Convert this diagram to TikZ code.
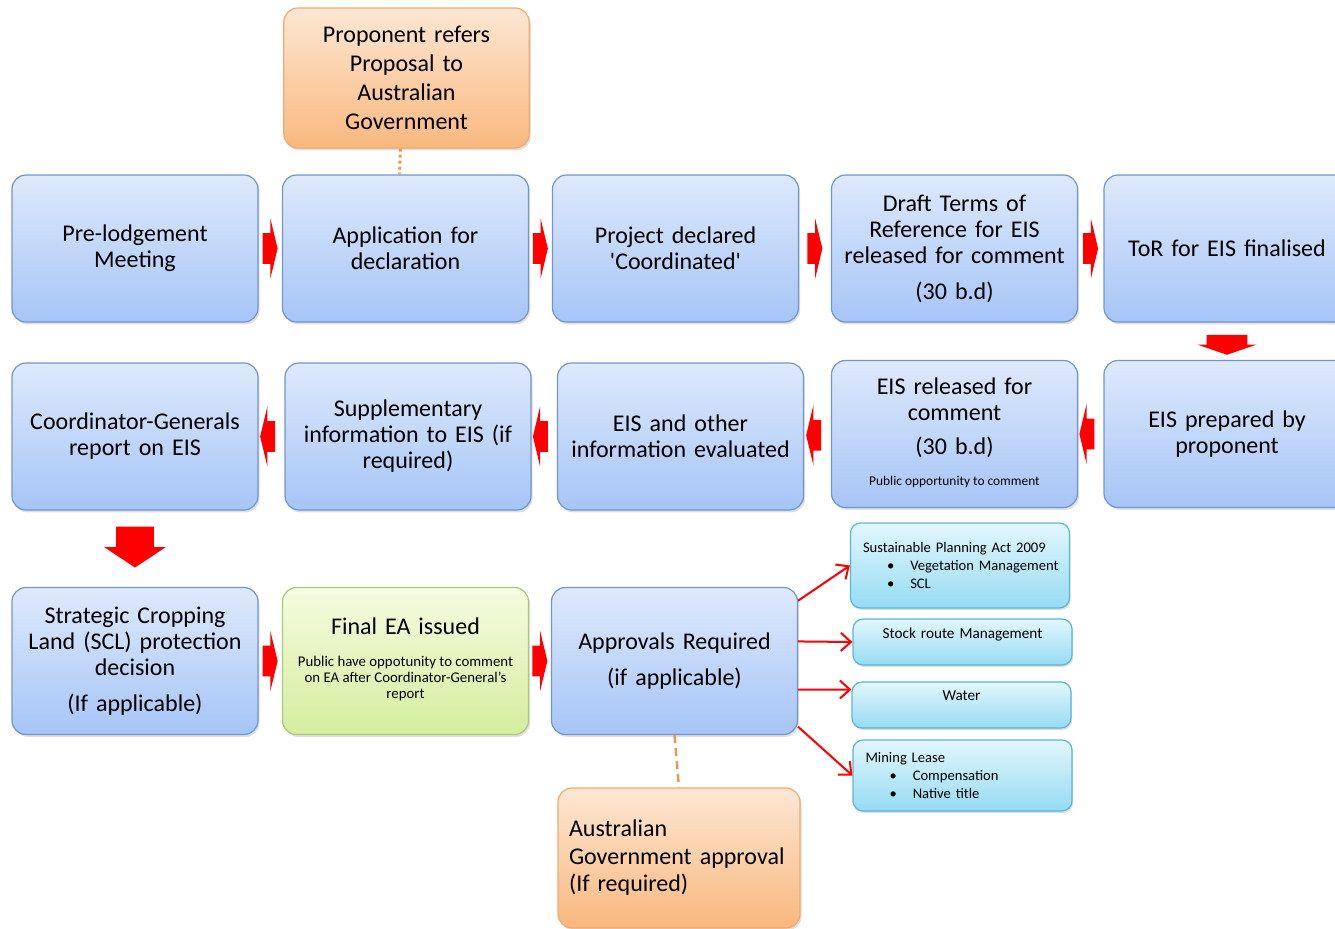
\documentclass[tikz,border=0pt]{standalone}
\usepackage{fontspec}
\setmainfont{Carlito}
\usetikzlibrary{positioning,calc,shapes.arrows,shadows,arrows.meta}
\definecolor{blueTop}{RGB}{222,233,252}
\definecolor{blueBot}{RGB}{166,197,246}
\definecolor{blueLine}{RGB}{112,150,204}
\definecolor{greenTop}{RGB}{245,251,224}
\definecolor{greenBot}{RGB}{212,238,158}
\definecolor{greenLine}{RGB}{170,202,120}
\definecolor{orangeTop}{RGB}{253,231,212}
\definecolor{orangeBot}{RGB}{249,184,126}
\definecolor{orangeLine}{RGB}{241,170,108}
\definecolor{cyanTop}{RGB}{226,247,253}
\definecolor{cyanBot}{RGB}{150,219,243}
\definecolor{cyanLine}{RGB}{92,180,216}
\definecolor{linkOrange}{RGB}{240,150,80}
\newcommand\bulletitem[1]{\mbox{\hspace*{12pt}\textbullet\hspace{8pt}#1}}
\newcommand\smalltext[2]{{\fontsize{#1}{8}\selectfont\spaceskip=0pt\xspaceskip=0pt
  \begin{tabular}[t]{@{}c@{}}#2\end{tabular}}}

\tikzset{
  stage/.style={rounded corners=7pt, draw=blueLine, line width=0.6pt,
    top color=blueTop, bottom color=blueBot,
    minimum width=123pt, minimum height=73.5pt, text width=116pt, align=center,
    font=\fontsize{12}{13}\selectfont,
    drop shadow={shadow xshift=0.8pt, shadow yshift=-1.2pt, opacity=0.25}},
  govbox/.style={stage, draw=orangeLine, top color=orangeTop, bottom color=orangeBot,
    minimum width=121pt, minimum height=70pt},
  note/.style={rounded corners=5pt, draw=cyanLine, line width=0.6pt,
    top color=cyanTop, bottom color=cyanBot, minimum width=109.5pt,
    text width=97pt, font=\fontsize{7.3}{9}\selectfont,
    drop shadow={shadow xshift=0.6pt, shadow yshift=-1pt, opacity=0.25}},
  blockarr/.style={single arrow, fill=red, draw=none, inner xsep=0pt, inner ysep=7.5pt,
    minimum height=7.5pt, single arrow head extend=7.25pt, single arrow tip angle=153},
  flow/.style={red, line width=1pt, -{Straight Barb[length=5pt,width=9pt]}},
  link/.style={linkOrange, line width=1.2pt}
}

\begin{document}
\begin{tikzpicture}[x=0.5pt, y=-0.5pt]
\useasboundingbox (0,0) rectangle (1335,928);

% first row
\node[stage] (pre)  at (135,248.5)   {Pre-lodgement\\Meeting};
\node[stage] (app)  at (405.5,248.5) {Application for\\declaration};
\node[stage] (proj) at (675.5,248.5) {Project declared\\\textquotesingle Coordinated\textquotesingle};
\node[stage] (tor)  at (954.5,248.5) {Draft Terms of\\Reference for EIS\\released for comment\\[5pt](30 b.d)};
\node[stage] (fin)  at (1227,248.5)  {ToR for EIS finalised};

\node[govbox, font=\fontsize{12}{14.5}\selectfont] (prop) at (406.5,78)
  {Proponent refers\\Proposal to\\Australian\\Government};

% second row
\node[stage] (cgr)  at (135,436.5)   {Coordinator-Generals\\report on EIS};
\node[stage] (supp) at (408,436.5)   {Supplementary\\information to EIS (if\\required)};
\node[stage] (eval) at (680.5,436.5) {EIS and other\\information evaluated};
\node[stage] (rel)  at (954.5,434)   {EIS released for\\comment\\[4pt](30 b.d)\\[2.5pt]\smalltext{6.7}{Public opportunity to comment}};
\node[stage] (prep) at (1227,434)    {EIS prepared by\\proponent};

% third row
\node[stage] (scl)  at (135,661)     {Strategic Cropping\\Land (SCL) protection\\decision\\[5pt](If applicable)};
\node[stage, draw=greenLine, top color=greenTop, bottom color=greenBot] (ea) at (405.5,661)
  {Final EA issued\\[3pt]\smalltext{7.4}{Public have oppotunity to comment\\on EA after Coordinator-General's\\report}};
\node[stage] (appr) at (674.5,661)   {Approvals Required\\[5pt](if applicable)};

\node[govbox, align=left, text width=110pt, font=\fontsize{12}{13.75}\selectfont] (agov) at (679,858)
  {Australian\\Government approval\\(If required)};

% approvals
\node[note, align=left, minimum height=42.5pt] (spa) at (960,565.5)
  {Sustainable Planning Act 2009\\\bulletitem{Vegetation Management}\\\bulletitem{SCL}};
\node[note, align=center, minimum height=23pt, font=\fontsize{7.6}{9}\selectfont] (stock) at (962.5,642) {Stock route Management\\\mbox{}};
\node[note, align=center, minimum height=23pt, font=\fontsize{7.6}{9}\selectfont] (water) at (961.5,705) {Water\\\mbox{}};
\node[note, align=left, minimum height=35.5pt] (mining) at (962.5,775.5)
  {Mining Lease\\\bulletitem{Compensation}\\\bulletitem{Native title}};

% block arrows
\foreach \a/\b in {pre/app, app/proj, proj/tor, tor/fin, scl/ea, ea/appr}{
  \node[blockarr] (\a-\b) at ($(\a.east)!0.5!(\b.west)+(-2,0)$) {};
}
\foreach \a/\b in {prep/rel, rel/eval, eval/supp, supp/cgr}{
  \node[blockarr, rotate=180] (\a-\b) at ($(\a.west)!0.5!(\b.east)+(-2,0)$) {};
}
\node[blockarr, rotate=-90, inner ysep=10pt, minimum height=10pt,
  single arrow head extend=4.5pt, single arrow tip angle=142] (fin-prep) at ($(fin.south)!0.5!(prep.north)$) {};
\node[blockarr, rotate=-90, inner ysep=9.25pt, minimum height=20.5pt,
  single arrow head extend=6pt, single arrow tip angle=113] (cgr-scl) at ($(cgr.south)!0.5!(scl.north)+(0,-8)$) {};

% links
\draw[link, dash pattern=on 1.5pt off 1.5pt, line width=1.5pt] ([xshift=-3pt]prop.south) -- ([xshift=-3pt]app.north);
\draw[link, dash pattern=on 4pt off 2.5pt] (appr.south) -- (agov.north);

\draw[flow] (appr.26) -- (spa.west);
\draw[flow] (appr.9) -- (stock.west);
\draw[flow] (appr.-13) -- (water.172);
\draw[flow] (appr.-28) -- (mining.west);

\end{tikzpicture}
\end{document}
